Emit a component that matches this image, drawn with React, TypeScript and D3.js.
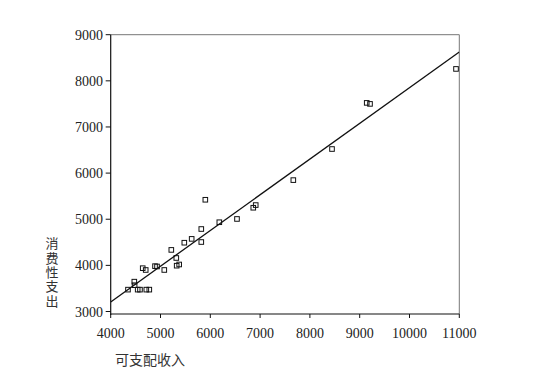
import React from "react";
import * as d3 from "d3";

const income = [4347, 4474, 4480, 4542, 4588, 4715, 4775, 4643, 4703, 4890, 4930, 5076, 5217, 5317, 5325, 5375, 5478, 5626, 5819, 5819, 5900, 6181, 6536, 6863, 6912, 7667, 8444, 9141, 9207, 10934];
const spending = [3474, 3647, 3570, 3474, 3474, 3474, 3474, 3939, 3900, 3983, 3976, 3900, 4335, 4160, 3993, 4019, 4491, 4574, 4788, 4506, 5422, 4935, 5006, 5249, 5307, 5848, 6522, 7522, 7500, 8258];
const xTicks = [4000, 5000, 6000, 7000, 8000, 9000, 10000, 11000];
const yTicks = [3000, 4000, 5000, 6000, 7000, 8000, 9000];
const fitIntercept = 112;
const fitSlope = 0.774;
const xLabel = "可支配收入";
const yLabel = "消费性支出";

export default function App() {
  const W = 533, H = 380;
  const left = 110.7, right = 459.3, top = 34.7, bottom = 314;
  const x = d3.scaleLinear().domain([4000, 11000]).range([left, right]);
  const y = d3.scaleLinear().domain([3000, 9000]).range([311.5, top]);
  const line = d3.line<number>().x((d) => x(d)).y((d) => y(fitIntercept + fitSlope * d));
  const font = "'Liberation Serif', 'Times New Roman', serif";
  const cjk = "'Noto Sans CJK SC', sans-serif";
  const s = 4.6;
  return (
    <svg width={W} height={H} style={{ position: "absolute", left: 0, top: 0, background: "#fff" }}>
      <defs>
        <clipPath id="plot">
          <rect x={left} y={top} width={right - left} height={bottom - top} />
        </clipPath>
      </defs>
      <line x1={left} x2={right} y1={top} y2={top} stroke="#777" strokeWidth={1} />
      <line x1={right} x2={right} y1={top} y2={bottom} stroke="#777" strokeWidth={1} />
      <line x1={left} x2={left} y1={top} y2={bottom + 1} stroke="#111" strokeWidth={1.2} />
      <line x1={left} x2={right} y1={bottom} y2={bottom} stroke="#111" strokeWidth={1.2} />
      {xTicks.map((t) => (
        <g key={"x" + t}>
          <line x1={x(t)} x2={x(t)} y1={bottom} y2={bottom + 4} stroke="#111" />
          <text x={x(t)} y={338} textAnchor="middle" fontFamily={font} fontSize={14} fill="#222">{t}</text>
        </g>
      ))}
      {yTicks.map((t) => (
        <g key={"y" + t}>
          <line x1={left - 5} x2={left} y1={y(t)} y2={y(t)} stroke="#111" />
          <text x={103} y={y(t) + 5} textAnchor="end" fontFamily={font} fontSize={14} fill="#222">{t}</text>
        </g>
      ))}
      <path d={line([4000, 11000]) || ""} fill="none" stroke="#111" strokeWidth={1.3} clipPath="url(#plot)" />
      {income.map((v, i) => (
        <rect key={i} x={x(v) - s / 2} y={y(spending[i]) - s / 2} width={s} height={s} fill="none" stroke="#111" strokeWidth={1} />
      ))}
      <text x={115} y={365} fontFamily={cjk} fontSize={14} fill="#333">{xLabel}</text>
      <text x={52} y={237} fontFamily={cjk} fontSize={13} fill="#333" letterSpacing={1.3}
        style={{ writingMode: "vertical-rl", textOrientation: "upright" } as any}>{yLabel}</text>
    </svg>
  );
}
